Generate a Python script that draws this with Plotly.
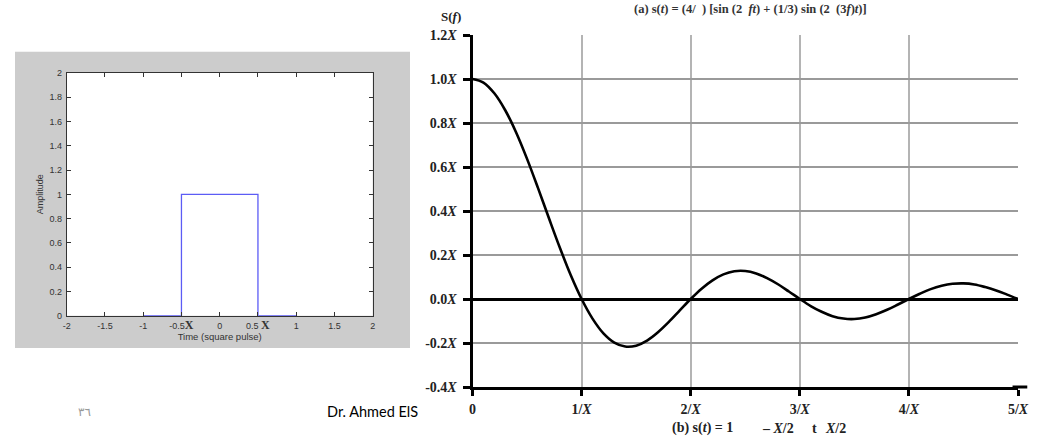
import plotly.graph_objects as go

# ---------------- data ----------------
# left panel: square pulse
pulse_t = [-1.0, -0.5, -0.5, 0.5, 0.5, 1.0]
pulse_amp = [0, 0, 1, 1, 0, 0]
left_xticks = [-2, -1.5, -1, -0.5, 0, 0.5, 1, 1.5, 2]
left_xticktext = ["-2", "-1.5", "-1",
                  "-0.5<span style='font-family:Liberation Serif;font-size:12px'><b>X</b></span>",
                  "0",
                  "0.5 <span style='font-family:Liberation Serif;font-size:12px'><b>X</b></span>",
                  "1", "1.5", "2"]
left_yticks = [0, 0.2, 0.4, 0.6, 0.8, 1, 1.2, 1.4, 1.6, 1.8, 2]
left_yticktext = ["0", "0.2", "0.4", "0.6", "0.8", "1", "1.2", "1.4", "1.6", "1.8", "2"]

# right panel: spectrum S(f)
freq = [0.0, 0.1, 0.2, 0.3, 0.4, 0.5, 0.6, 0.7, 0.8, 0.9,
        1.0, 1.1, 1.2, 1.3, 1.4, 1.5, 1.6, 1.7, 1.8, 1.9,
        2.0, 2.1, 2.2, 2.3, 2.4, 2.5, 2.6, 2.7, 2.8, 2.9,
        3.0, 3.1, 3.2, 3.3, 3.4, 3.5, 3.6, 3.7, 3.8, 3.9,
        4.0, 4.1, 4.2, 4.3, 4.4, 4.5, 4.6, 4.7, 4.8, 4.9, 5.0]
spectrum = [1.000, 0.984, 0.935, 0.858, 0.757, 0.637, 0.505, 0.368, 0.234, 0.109,
            0.000, -0.089, -0.156, -0.198, -0.216, -0.212, -0.189, -0.151, -0.104, -0.052,
            0.000, 0.047, 0.085, 0.112, 0.126, 0.127, 0.116, 0.095, 0.067, 0.034,
            0.000, -0.032, -0.058, -0.078, -0.089, -0.091, -0.084, -0.069, -0.049, -0.025,
            0.000, 0.024, 0.045, 0.060, 0.069, 0.071, 0.066, 0.054, 0.039, 0.020, 0.000]
right_xticks = [0, 1, 2, 3, 4, 5]
right_xticktext = ["0", "1/<i>X</i>", "2/<i>X</i>", "3/<i>X</i>", "4/<i>X</i>", "5/<i>X</i>"]
right_yticks = [-0.4, -0.2, 0.0, 0.2, 0.4, 0.6, 0.8, 1.0, 1.2]
right_yticktext = ["-0.4<i>X</i>", "-0.2<i>X</i>", "0.0<i>X</i>", "0.2<i>X</i>", "0.4<i>X</i>",
                   "0.6<i>X</i>", "0.8<i>X</i>", "1.0<i>X</i>", "1.2<i>X</i>"]

W, H = 1046, 436

def px(x):
    return x / W

def py(y):
    return 1 - y / H

fig = go.Figure()

fig.add_trace(go.Scatter(x=pulse_t, y=pulse_amp, mode="lines",
                         line=dict(color="#5c5cf5", width=1.3),
                         xaxis="x", yaxis="y", showlegend=False, hoverinfo="skip"))
fig.add_trace(go.Scatter(x=freq, y=spectrum, mode="lines", line_shape="spline",
                         line=dict(color="black", width=2.6),
                         xaxis="x2", yaxis="y2", showlegend=False, cliponaxis=False,
                         hoverinfo="skip"))

serif = "Liberation Serif"
sans = "Liberation Sans"

fig.update_layout(
    width=W, height=H, autosize=False,
    margin=dict(l=0, r=0, t=0, b=0, pad=0),
    paper_bgcolor="white", plot_bgcolor="white",
    showlegend=False,
    xaxis=dict(domain=[px(66.7), px(372.7)], range=[-2, 2], anchor="y", automargin=False,
               tickvals=left_xticks, ticktext=left_xticktext,
               ticks="inside", ticklen=4, tickcolor="#333", tickwidth=1,
               showline=True, linecolor="#333", linewidth=1, mirror="ticks",
               showgrid=False, zeroline=False,
               tickfont=dict(family=sans, size=9, color="#333"),
               ticklabelstandoff=1,
               title=dict(text="Time (square pulse)", font=dict(family=sans, size=9.5, color="#333"),
                          standoff=2)),
    yaxis=dict(domain=[py(315.7), py(73)], range=[0, 2], anchor="x", automargin=False,
               tickvals=left_yticks, ticktext=left_yticktext,
               ticks="inside", ticklen=4, tickcolor="#333", tickwidth=1,
               showline=True, linecolor="#333", linewidth=1, mirror="ticks",
               showgrid=False, zeroline=False,
               tickfont=dict(family=sans, size=9, color="#333"),
               ticklabelstandoff=2,
               title=dict(text="Amplitude", font=dict(family=sans, size=9, color="#333"),
                          standoff=4)),
    xaxis2=dict(domain=[px(472.5), px(1018)], range=[0, 5], anchor="y2", automargin=False,
                tickvals=right_xticks, ticktext=right_xticktext,
                ticks="outside", ticklen=6, tickwidth=2.5, tickcolor="black",
                showline=True, linecolor="black", linewidth=3,
                showgrid=True, gridcolor="#b4b4b4", gridwidth=1.5,
                zeroline=False,
                tickfont=dict(family=serif, size=14, color="#222", weight="bold"),
                ticklabelstandoff=1),
    yaxis2=dict(domain=[py(387), py(35)], range=[-0.4, 1.2], anchor="x2", automargin=False,
                tickvals=right_yticks, ticktext=right_yticktext,
                ticks="outside", ticklen=7, tickwidth=2.5, tickcolor="black",
                showline=True, linecolor="black", linewidth=3,
                showgrid=True, gridcolor="#9a9a9a", gridwidth=1.8,
                zeroline=True, zerolinecolor="black", zerolinewidth=2.6,
                tickfont=dict(family=serif, size=14, color="#222", weight="bold"),
                ticklabelstandoff=3),
)

# gray MATLAB figure background behind the left panel
fig.add_shape(type="rect", xref="paper", yref="paper",
              x0=px(15), x1=px(410), y0=py(348), y1=py(51.7),
              fillcolor="#cccccc", line=dict(width=0), layer="below")
# white plotting area of the left panel
fig.add_shape(type="rect", xref="x domain", yref="y domain",
              x0=0, x1=1, y0=0, y1=1,
              fillcolor="white", line=dict(width=0), layer="below")
# extension of the frequency axis past 5/X
fig.add_shape(type="line", xref="x2 domain", yref="y2 domain",
              x0=0.99, x1=1.017, y0=0, y1=0,
              line=dict(color="black", width=3))

# texts
fig.add_annotation(xref="paper", yref="paper", x=px(750), y=py(9), xanchor="center", yanchor="middle",
                   text="<b>(a) s(<i>t</i>) = (4/  ) [sin (2  <i>ft</i>) + (1/3) sin (2  (3<i>f</i>)<i>t</i>)]</b>",
                   showarrow=False, font=dict(family=serif, size=12.5, color="#333"))
fig.add_annotation(xref="paper", yref="paper", x=px(451), y=py(16), xanchor="center", yanchor="middle",
                   text="<b>S(<i>f</i>)</b>", showarrow=False,
                   font=dict(family=serif, size=13, color="#222"))
caption_parts = [("<b>(b) s(<i>t</i>) = 1</b>", 702), ("<b>– <i>X</i>/2</b>", 778),
                 ("<b>t</b>", 814), ("<b><i>X</i>/2</b>", 835)]
for txt, xc in caption_parts:
    fig.add_annotation(xref="paper", yref="paper", x=px(xc), y=py(428), xanchor="center", yanchor="middle",
                       text=txt, showarrow=False, font=dict(family=serif, size=14, color="#222"))
fig.add_annotation(xref="paper", yref="paper", x=px(325), y=py(411), xanchor="left", yanchor="middle",
                   text="Dr. Ahmed ElS", showarrow=False,
                   font=dict(family="Lato", size=14.5, color="black"))
fig.add_annotation(xref="paper", yref="paper", x=px(84), y=py(412), xanchor="center", yanchor="middle",
                   text="٣٦", showarrow=False,
                   font=dict(family="DejaVu Sans", size=12, color="#999"))

fig.write_html(
    "out.html",
    config={"displayModeBar": False},
    post_script="document.body.style.margin='0';document.body.style.padding='0';",
)
